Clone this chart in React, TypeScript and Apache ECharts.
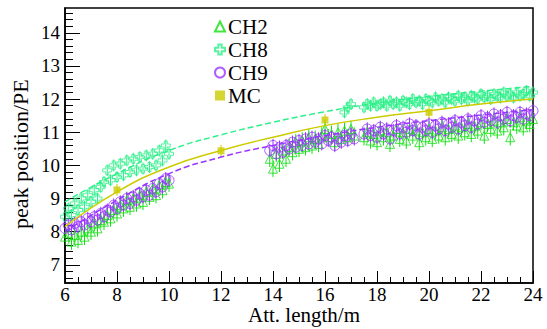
import React, { useEffect, useRef } from "react";
import * as echarts from "echarts";

// ---------- data ----------
// x grid of each measured segment (start, step) in metres
const segA = { start: 6.0, step: 0.125 };
const segB = { start: 13.875, step: 0.125 };
const segB8 = { start: 16.75, step: 0.125 };
const segC = { start: 17.5, step: 0.125 };

const ch2A = [7.85, 7.95, 7.7, 7.9, 7.75, 8.0, 7.85, 8.1, 8.0, 8.25, 8.1, 8.35, 8.3, 8.5, 8.4, 8.65, 8.55, 8.8, 8.7, 8.95, 8.75, 9.0, 8.85, 9.1, 8.9, 9.2, 9.05, 9.3, 9.1, 9.4, 9.25, 9.5, 9.45];
const ch8A = [8.45, 8.7, 8.5, 8.85, 8.65, 9.0, 8.75, 9.1, 8.9, 9.25, 9.0, 9.35, 9.5, 9.85, 9.55, 10.0, 9.65, 10.05, 9.7, 10.15, 9.8, 10.2, 9.85, 10.25, 9.9, 10.3, 9.95, 10.35, 10.0, 10.45, 10.15, 10.6, 10.35];
const ch9A = [8.1, 8.2, 8.05, 8.25, 8.15, 8.3, 8.2, 8.4, 8.3, 8.45, 8.35, 8.55, 8.45, 8.65, 8.6, 8.8, 8.7, 8.9, 8.8, 9.0, 8.85, 9.05, 8.95, 9.15, 9.05, 9.25, 9.1, 9.3, 9.2, 9.45, 9.35, 9.6, 9.55];

const ch2B = [10.2, 9.9, 10.35, 10.05, 10.45, 10.2, 10.55, 10.4, 10.7, 10.5, 10.75, 10.55, 10.85, 10.6, 10.8, 10.65, 10.9, 11.1, 10.85, 10.95, 10.7, 11.0, 10.8, 11.05, 10.85, 11.1, 10.9];
const ch9B = [10.45, 10.6, 10.35, 10.55, 10.4, 10.6, 10.5, 10.7, 10.55, 10.75, 10.6, 10.8, 10.65, 10.85, 10.7, 10.8, 10.65, 10.9, 10.75, 10.85, 10.6, 10.8, 10.7, 10.9, 10.75, 10.95, 10.8];
const ch8B = [11.6, 11.75, 11.85];

const ch2C = [10.85, 11.0, 10.75, 10.95, 10.7, 11.05, 10.85, 11.0, 10.65, 10.9, 11.1, 10.8, 11.0, 10.75, 11.1, 10.9, 11.05, 10.7, 11.0, 10.85, 11.1, 10.8, 11.05, 10.9, 11.15, 10.85, 11.1, 10.95, 11.2, 10.9, 11.15, 11.0, 11.25, 10.95, 11.2, 11.05, 11.3, 10.9, 11.25, 11.1, 11.35, 11.05, 11.3, 11.15, 11.4, 10.85, 11.3, 11.2, 11.45, 11.15, 11.35, 11.25, 11.4];
const ch8C = [11.75, 11.85, 11.8, 11.9, 11.8, 11.85, 11.9, 11.8, 11.95, 11.85, 11.9, 11.8, 11.95, 11.9, 11.85, 12.0, 11.9, 11.95, 11.85, 12.0, 11.95, 11.9, 12.05, 11.95, 12.0, 11.9, 12.05, 12.0, 11.95, 12.1, 12.0, 12.05, 11.95, 12.1, 12.05, 12.0, 12.15, 12.05, 12.1, 12.0, 12.15, 12.1, 12.05, 12.2, 12.1, 12.15, 12.05, 12.2, 12.1, 12.15, 12.25, 12.1, 12.2];
const ch9C = [10.95, 11.1, 10.9, 11.05, 10.85, 11.15, 10.95, 11.1, 10.8, 11.05, 11.2, 10.95, 11.15, 11.0, 11.25, 11.05, 11.2, 10.95, 11.15, 11.05, 11.25, 11.0, 11.2, 11.1, 11.3, 11.05, 11.25, 11.15, 11.35, 11.1, 11.3, 11.2, 11.4, 11.15, 11.35, 11.25, 11.5, 11.3, 11.45, 11.35, 11.55, 11.3, 11.5, 11.4, 11.6, 11.35, 11.5, 11.45, 11.6, 11.4, 11.55, 11.5, 11.65];

const errCH2 = 0.25;
const errCH8 = 0.18;
const errCH9 = 0.2;

const mcX = [8, 12, 16, 20];
const mcY = [9.26, 10.44, 11.37, 11.6];
const mcErr = [0.18, 0.18, 0.18, 0.18];

// fitted curves
const fitX = [6, 8, 10, 12, 14, 16, 18, 20, 22, 24];
const fitCH8 = [8.9, 9.75, 10.45, 10.92, 11.3, 11.62, 11.88, 12.08, 12.24, 12.38];
const fitCH9 = [8.0, 8.95, 9.75, 10.25, 10.6, 10.9, 11.15, 11.35, 11.52, 11.68];
const fitMC = [8.15, 9.2, 9.95, 10.45, 10.85, 11.2, 11.45, 11.65, 11.85, 12.0];

const xTicks = { min: 6, max: 24, interval: 2 };
const yRange = { min: 6.45, max: 14.75 };
const yMajorTicks = [7, 8, 9, 10, 11, 12, 13, 14];

const names = ["CH2", "CH8", "CH9", "MC"];

// ---------- styles ----------
const FONT = "Liberation Serif, Times New Roman, serif";
const C2 = "#11e011";
const C8 = "#2ef08a";
const C9 = "#9933ff";
const CMC = "#cccc00";

function seg(s: { start: number; step: number }, ys: number[], err: number) {
  return ys.map((y, i) => [s.start + i * s.step, y, err]);
}

export default function App() {
  const ref = useRef<HTMLDivElement>(null);
  useEffect(() => {
    if (!ref.current) return;
    const chart = echarts.init(ref.current, undefined, { renderer: "svg" });

    const d2 = [...seg(segA, ch2A, errCH2), ...seg(segB, ch2B, errCH2), ...seg(segC, ch2C, errCH2)];
    const d8 = [...seg(segA, ch8A, errCH8), ...seg(segB8, ch8B, errCH8), ...seg(segC, ch8C, errCH8)];
    const d9 = [...seg(segA, ch9A, errCH9), ...seg(segB, ch9B, errCH9), ...seg(segC, ch9C, errCH9)];
    const dmc = mcX.map((x, i) => [x, mcY[i], mcErr[i]]);

    const minorTicks: number[] = [];
    for (let v = 6.6; v < yRange.max; v += 0.2) {
      const r = Math.round(v * 10) / 10;
      if (Math.abs(r - Math.round(r)) > 1e-6) minorTicks.push(r);
    }

    const errSeries = (data: number[][], color: string) => ({
      type: "custom",
      data,
      encode: { x: 0, y: 1 },
      silent: true,
      clip: true,
      renderItem: (_p: any, api: any) => {
        const x = api.value(0);
        const y = api.value(1);
        const e = api.value(2);
        const a = api.coord([x, y - e]);
        const b = api.coord([x, y + e]);
        return {
          type: "line",
          shape: { x1: a[0], y1: a[1], x2: b[0], y2: b[1] },
          style: { stroke: color, lineWidth: 1 },
        };
      },
    });

    const fitSeries = (ys: number[], color: string, type: string, width: number) => ({
      type: "line",
      data: fitX.map((x, i) => [x, ys[i]]),
      smooth: true,
      showSymbol: false,
      silent: true,
      lineStyle: { color, width, type },
    });

    const openItem = (color: string) => ({ color: "rgba(0,0,0,0)", borderColor: color, borderWidth: 1 });

    chart.setOption({
      animation: false,
      backgroundColor: "#ffffff",
      textStyle: { fontFamily: FONT },
      grid: { left: 65, right: 14, top: 8, bottom: 46, show: true, borderColor: "#000", borderWidth: 1.5, backgroundColor: "transparent" },
      legend: {
        data: names,
        orient: "vertical",
        left: 209,
        top: 11,
        itemGap: 2,
        itemWidth: 10,
        itemHeight: 10,
        textStyle: { fontFamily: FONT, fontSize: 21, color: "#000", padding: [0, 0, 0, -2] },
      },
      xAxis: {
        type: "value",
        min: xTicks.min,
        max: xTicks.max,
        interval: xTicks.interval,
        axisLine: { lineStyle: { color: "#000", width: 1.5 } },
        axisTick: { inside: true, length: 12, lineStyle: { color: "#000" } },
        minorTick: { show: true, splitNumber: 4, length: 6, lineStyle: { color: "#000" } },
        splitLine: { show: false },
        axisLabel: { fontFamily: FONT, fontSize: 19, lineHeight: 16, color: "#000", margin: 3 },
      },
      yAxis: [
        {
          type: "value",
          min: yRange.min,
          max: yRange.max,
          axisLine: { show: true, lineStyle: { color: "#000", width: 1.5 } },
          axisTick: { inside: true, length: 15, customValues: yMajorTicks, lineStyle: { color: "#000" } },
          axisLabel: { fontFamily: FONT, fontSize: 19, color: "#000", margin: 5, customValues: yMajorTicks },
          splitLine: { show: false },
        },
        {
          type: "value",
          position: "left",
          min: yRange.min,
          max: yRange.max,
          axisLine: { show: false },
          axisTick: { show: true, inside: true, length: 8, customValues: minorTicks, lineStyle: { color: "#000" } },
          axisLabel: { show: false },
          splitLine: { show: false },
        },
      ],
      graphic: [
        {
          type: "text",
          x: 248,
          y: 315,
          style: { text: "Att. length/m", fontFamily: FONT, fontSize: 21, fill: "#000", verticalAlign: "middle", lineHeight: 18 },
        },
        {
          type: "text",
          x: 9,
          y: 229,
          rotation: Math.PI / 2,
          style: { text: "peak position/PE", fontFamily: FONT, fontSize: 22, fill: "#000" },
        },
      ],
      series: [
        fitSeries(fitCH8, C8, "dashed", 1.5),
        fitSeries(fitCH9, C9, "dashed", 1.5),
        errSeries(d8, C8),
        {
          name: "CH8",
          type: "scatter",
          data: d8,
          symbol: "path://M3,0H6V3H9V6H6V9H3V6H0V3H3Z",
          symbolSize: 9,
          itemStyle: openItem(C8),
        },
        errSeries(d2, C2),
        {
          name: "CH2",
          type: "scatter",
          data: d2,
          symbol: "triangle",
          symbolSize: 9,
          itemStyle: openItem(C2),
        },
        errSeries(d9, C9),
        {
          name: "CH9",
          type: "scatter",
          data: d9,
          symbol: "circle",
          symbolSize: 10,
          itemStyle: openItem(C9),
        },
        fitSeries(fitMC, CMC, "solid", 1.5),
        errSeries(dmc, CMC),
        {
          name: "MC",
          type: "scatter",
          data: dmc,
          symbol: "rect",
          symbolSize: 7,
          itemStyle: { color: CMC },
        },
      ],
    });
    return () => chart.dispose();
  }, []);
  return <div ref={ref} style={{ position: "fixed", left: 0, top: 0, width: 547, height: 329 }} />;
}
